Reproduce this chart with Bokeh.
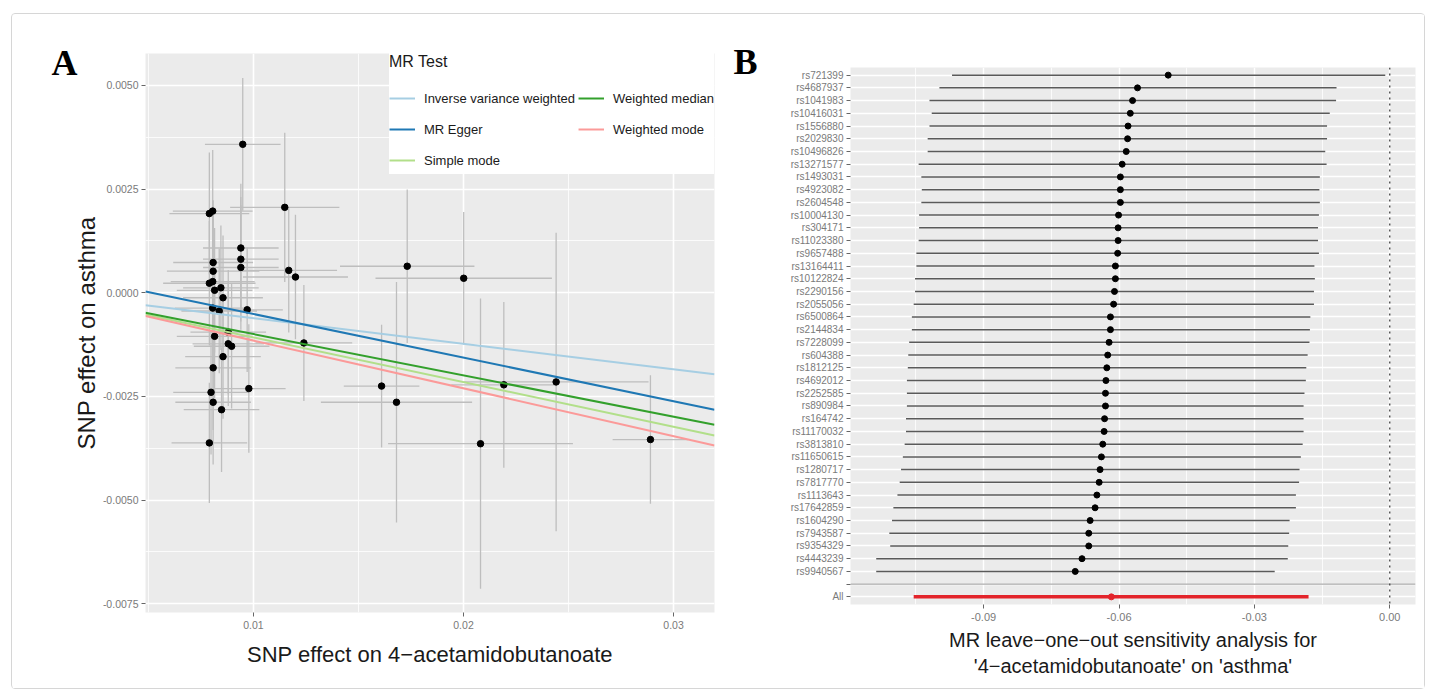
from bokeh.plotting import figure
from bokeh.models import (Range1d, FactorRange, FixedTicker, NumeralTickFormatter, Span,
                          Legend, LegendItem, ColumnDataSource)
from bokeh.layouts import row, column
from bokeh.embed import file_html
from bokeh.resources import INLINE
import numpy as np

FONT = "Liberation Sans"

# ---------------- Panel A data (SNP effects) ----------------
beta_exposure = [0.00949, 0.00790, 0.00806, 0.01149, 0.00940, 0.00940, 0.00940, 0.00808, 0.00808, 0.00790,
                 0.00806, 0.00815, 0.00845, 0.00855, 0.01168, 0.01200, 0.00806, 0.00837, 0.00970, 0.00880,
                 0.00815, 0.00880, 0.00896, 0.00855, 0.00808, 0.01240, 0.00798, 0.00978, 0.00808, 0.00848,
                 0.00790, 0.01732, 0.02001, 0.02192, 0.02441, 0.02081, 0.02890, 0.01610, 0.01681]
beta_outcome = [0.00358, 0.00191, 0.00197, 0.00206, 0.00108, 0.00081, 0.00061, 0.00073, 0.00052, 0.00023,
                0.00027, 0.00006, 0.00012, -0.00012, 0.00054, 0.00038, -0.00037, -0.00044, -0.00041, -0.00095,
                -0.00105, -0.00123, -0.00129, -0.00154, -0.00181, -0.00121, -0.00240, -0.00231, -0.00264, -0.00282,
                -0.00362, 0.00064, 0.00035, -0.00222, -0.00215, -0.00364, -0.00354, -0.00225, -0.00264]
se_exposure = [0.0018, 0.0019, 0.0019, 0.0026, 0.0018, 0.0018, 0.0018, 0.0019, 0.0022, 0.0022,
               0.0020, 0.0018, 0.0018, 0.0019, 0.0023, 0.0025, 0.0018, 0.0018, 0.0017, 0.0018,
               0.0018, 0.0017, 0.0018, 0.0018, 0.0018, 0.0023, 0.0018, 0.00175, 0.0018, 0.0018,
               0.0018, 0.0032, 0.0042, 0.0025, 0.0044, 0.0044, 0.0018, 0.0018, 0.0036]
se_outcome = [0.0016, 0.00147, 0.00147, 0.0018, 0.00155, 0.0015, 0.0015, 0.0015, 0.0015, 0.0015,
              0.0015, 0.0015, 0.0015, 0.0015, 0.0015, 0.0015, 0.0015, 0.0015, 0.0015, 0.0015,
              0.0015, 0.0015, 0.0015, 0.0015, 0.0015, 0.0014, 0.0015, 0.00155, 0.0015, 0.0015,
              0.00145, 0.00185, 0.0016, 0.0020, 0.0036, 0.0035, 0.00155, 0.00148, 0.0029]

methods = ["Inverse variance weighted", "MR Egger", "Simple mode", "Weighted median", "Weighted mode"]
method_slopes = [-0.0615, -0.1052, -0.1077, -0.0996, -0.1152]
method_intercepts = [0.0, 0.00054, 0.0, 0.0, 0.0]
method_colors = ["#a6cee3", "#1f78b4", "#b2df8a", "#33a02c", "#fb9a99"]

# ---------------- Panel B data (leave-one-out) ----------------
snps = ["rs721399", "rs4687937", "rs1041983", "rs10416031", "rs1556880", "rs2029830", "rs10496826",
        "rs13271577", "rs1493031", "rs4923082", "rs2604548", "rs10004130", "rs304171", "rs11023380",
        "rs9657488", "rs13164411", "rs10122824", "rs2290156", "rs2055056", "rs6500864", "rs2144834",
        "rs7228099", "rs604388", "rs1812125", "rs4692012", "rs2252585", "rs890984", "rs164742",
        "rs11170032", "rs3813810", "rs11650615", "rs1280717", "rs7817770", "rs1113643", "rs17642859",
        "rs1604290", "rs7943587", "rs9354329", "rs4443239", "rs9940567"]
loo_b = [-0.0491, -0.0559, -0.0570, -0.0575, -0.0580, -0.0581, -0.0584, -0.0593, -0.0597, -0.0597,
         -0.0597, -0.0601, -0.0602, -0.0602, -0.0603, -0.0608, -0.0608, -0.0610, -0.0612, -0.0619,
         -0.0619, -0.0622, -0.0625, -0.0627, -0.0629, -0.0630, -0.0630, -0.0632, -0.0633, -0.0636,
         -0.0639, -0.0642, -0.0644, -0.0649, -0.0653, -0.0664, -0.0667, -0.0667, -0.0682, -0.0697]
loo_lo = [-0.0970, -0.0998, -0.1020, -0.1015, -0.1020, -0.1024, -0.1024, -0.1044, -0.1038, -0.1037,
          -0.1038, -0.1043, -0.1043, -0.1044, -0.1049, -0.1049, -0.1052, -0.1052, -0.1055, -0.1059,
          -0.1059, -0.1065, -0.1067, -0.1068, -0.1070, -0.1070, -0.1070, -0.1072, -0.1072, -0.1075,
          -0.1079, -0.1083, -0.1086, -0.1091, -0.1100, -0.1103, -0.1109, -0.1107, -0.1138, -0.1138]
loo_up = [-0.0010, -0.0118, -0.0119, -0.0133, -0.0139, -0.0139, -0.0143, -0.0140, -0.0155, -0.0156,
          -0.0155, -0.0157, -0.0159, -0.0159, -0.0157, -0.0167, -0.0166, -0.0168, -0.0168, -0.0176,
          -0.0177, -0.0178, -0.0182, -0.0185, -0.0186, -0.0189, -0.0191, -0.0191, -0.0191, -0.0193,
          -0.0197, -0.0200, -0.0201, -0.0208, -0.0208, -0.0222, -0.0223, -0.0225, -0.0226, -0.0255]
all_label = ["All"]
all_b = [-0.0617]
all_lo = [-0.1055]
all_up = [-0.0180]


def style_axis(ax, label_size):
    ax.axis_line_color = None
    ax.major_tick_line_color = "#666666"
    ax.major_tick_in = 0
    ax.major_tick_out = 4
    ax.minor_tick_line_color = None
    ax.major_label_text_color = "#7a7a7a"
    ax.major_label_text_font = FONT
    ax.major_label_text_font_size = label_size
    ax.axis_label_text_font = FONT
    ax.axis_label_text_font_style = "normal"
    ax.axis_label_text_color = "#1a1a1a"


def style_letter(t, offset, standoff):
    t.text_font = "Liberation Serif"
    t.text_font_style = "bold"
    t.text_font_size = "36px"
    t.text_color = "black"
    t.align = "left"
    t.offset = offset
    t.standoff = standoff


# ---------------- Panel A ----------------
xA = Range1d(0.00486, 0.03195)
yA = Range1d(-0.00771, 0.00577)
pA = figure(width=708, height=674, output_backend="svg", toolbar_location=None,
            x_range=xA, y_range=yA, title="A",
            min_border_left=133, min_border_right=6, min_border_top=39, min_border_bottom=76,
            background_fill_color="#ebebeb", border_fill_color="white", outline_line_color=None)
style_letter(pA.title, -94, -58)

pA.xaxis.ticker = FixedTicker(ticks=[0.01, 0.02, 0.03], minor_ticks=[0.005, 0.015, 0.025])
pA.yaxis.ticker = FixedTicker(ticks=[-0.0075, -0.005, -0.0025, 0.0, 0.0025, 0.005],
                              minor_ticks=[-0.00625, -0.00375, -0.00125, 0.00125, 0.00375])
pA.xaxis.formatter = NumeralTickFormatter(format="0.00")
pA.yaxis.formatter = NumeralTickFormatter(format="0.0000")
style_axis(pA.xaxis[0], "10.5px")
style_axis(pA.yaxis[0], "10.5px")
pA.xaxis.axis_label = "SNP effect on 4\u2212acetamidobutanoate"
pA.yaxis.axis_label = "SNP effect on asthma"
pA.xaxis.axis_label_text_font_size = "22px"
pA.yaxis.axis_label_text_font_size = "24px"
pA.xaxis.major_label_standoff = 4
pA.yaxis.major_label_standoff = 3
pA.xaxis.axis_label_standoff = 10
pA.yaxis.axis_label_standoff = 0
for g in (pA.xgrid[0], pA.ygrid[0]):
    g.grid_line_color = "white"
    g.grid_line_width = 1.6
    g.minor_grid_line_color = "white"
    g.minor_grid_line_width = 0.8

bx = np.array(beta_exposure)
by = np.array(beta_outcome)
sx = np.array(se_exposure)
sy = np.array(se_outcome)
srcA = ColumnDataSource(dict(x=bx, y=by, x0=bx - sx, x1=bx + sx, y0=by - sy, y1=by + sy))
pA.segment(x0="x", x1="x", y0="y0", y1="y1", source=srcA, line_color="#bebebe", line_width=1.3)
pA.segment(x0="x0", x1="x1", y0="y", y1="y", source=srcA, line_color="#bebebe", line_width=1.3)
pA.scatter("x", "y", source=srcA, size=6.5, color="black")

# regression lines (a + b*x) drawn across the whole x range
xs = np.array([xA.start, xA.end])
items = []
for m, s, i, c in zip(methods, method_slopes, method_intercepts, method_colors):
    r = pA.line(x=xs, y=i + s * xs, line_color=c, line_width=2)
    items.append(LegendItem(label=m, renderers=[r]))

legend = Legend(items=items, ncols=2, location="top_right", title="MR Test")
legend.margin = 0
legend.padding = 8
legend.spacing = 3
legend.glyph_width = 26
legend.glyph_height = 28
legend.label_height = 28
legend.label_standoff = 9
legend.label_text_font = FONT
legend.label_text_font_size = "13px"
legend.label_text_color = "#1a1a1a"
legend.title_text_font = FONT
legend.title_text_font_size = "16px"
legend.title_text_font_style = "normal"
legend.title_text_color = "#1a1a1a"
legend.title_standoff = 13
legend.border_line_color = None
legend.background_fill_color = "white"
legend.background_fill_alpha = 1
pA.add_layout(legend)

# ---------------- Panel B ----------------
factors = all_label + [" "] + snps[::-1]
xB = Range1d(-0.1195, 0.0057)
pB = figure(width=704, height=674, output_backend="svg", toolbar_location=None,
            x_range=xB, title="B",
            y_range=FactorRange(factors=factors, range_padding=0.2 / len(factors)),
            min_border_left=130, min_border_right=9, min_border_top=53, min_border_bottom=84,
            background_fill_color="#ebebeb", border_fill_color="white", outline_line_color=None)
style_letter(pB.title, -117, -29)
pB.xaxis.ticker = FixedTicker(ticks=[-0.09, -0.06, -0.03, 0.0], minor_ticks=[-0.105, -0.075, -0.045, -0.015])
pB.xaxis.formatter = NumeralTickFormatter(format="0.00")
style_axis(pB.xaxis[0], "11px")
style_axis(pB.yaxis[0], "10px")
pB.yaxis.major_label_standoff = 3
pB.xaxis.major_label_standoff = 4
pB.xaxis.axis_label = ("MR leave\u2212one\u2212out sensitivity analysis for\n"
                       "'4\u2212acetamidobutanoate' on 'asthma'")
pB.xaxis.axis_label_text_font_size = "20px"
pB.xaxis.axis_label_standoff = 5
for g in (pB.xgrid[0], pB.ygrid[0]):
    g.grid_line_color = "white"
    g.grid_line_width = 1.4
    g.minor_grid_line_color = "white"
    g.minor_grid_line_width = 0.8

pB.add_layout(Span(location=factors.index(" ") + 0.5, dimension="width",
                   line_color="#9a9a9a", line_width=1))
pB.add_layout(Span(location=0, dimension="height", line_color="#333333",
                   line_width=1.2, line_dash="dotted"))

srcB = ColumnDataSource(dict(snp=snps, b=loo_b, lo=loo_lo, up=loo_up))
pB.segment(x0="lo", x1="up", y0="snp", y1="snp", source=srcB, line_color="#5a5a5a", line_width=1.5)
pB.scatter("b", "snp", source=srcB, size=6, color="black")
srcAll = ColumnDataSource(dict(snp=all_label, b=all_b, lo=all_lo, up=all_up))
pB.segment(x0="lo", x1="up", y0="snp", y1="snp", source=srcAll, line_color="#e3242b", line_width=3.5)
pB.scatter("b", "snp", source=srcAll, size=6, color="#e3242b")

layout = row(column(pA), column(pB), margin=(13, 0, 0, 11),
             styles={"border": "1px solid #d6d6d6", "border-radius": "4px"})

open("out.html", "w").write(file_html(layout, INLINE))
